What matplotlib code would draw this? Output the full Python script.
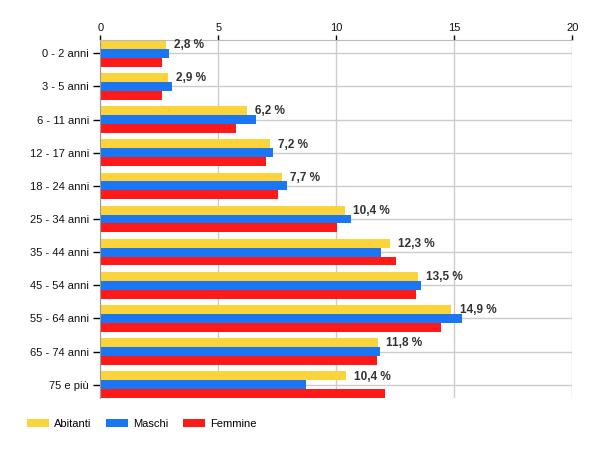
import matplotlib
matplotlib.use("Agg")
import matplotlib.pyplot as plt
import numpy as np

categories = ["0 - 2 anni", "3 - 5 anni", "6 - 11 anni", "12 - 17 anni", "18 - 24 anni",
              "25 - 34 anni", "35 - 44 anni", "45 - 54 anni", "55 - 64 anni",
              "65 - 74 anni", "75 e più"]
abitanti = [2.8, 2.85, 6.2, 7.17, 7.7, 10.37, 12.27, 13.48, 14.88, 11.78, 10.4]
maschi = [2.93, 3.05, 6.61, 7.33, 7.92, 10.63, 11.91, 13.57, 15.33, 11.86, 8.73]
femmine = [2.62, 2.62, 5.77, 7.0, 7.55, 10.05, 12.54, 13.39, 14.44, 11.73, 12.07]
value_labels = ["2,8 %", "2,9 %", "6,2 %", "7,2 %", "7,7 %", "10,4 %", "12,3 %",
                "13,5 %", "14,9 %", "11,8 %", "10,4 %"]
series_names = ["Abitanti", "Maschi", "Femmine"]
x_ticks = [0, 5, 10, 15, 20]

colors = ["#FAD43A", "#1A76F2", "#FF1A1A"]

plt.rcParams['font.family'] = ['Liberation Sans', 'DejaVu Sans']

fig = plt.figure(figsize=(6, 4.5), dpi=100)
ax = fig.add_axes([100.3/600, 1-398/450, (572.3-100.3)/600, (398-40)/450])

y = np.arange(len(categories))
h = 0.8/3
series = [abitanti, maschi, femmine]
bars = []
for i, (vals, c, name) in enumerate(zip(series, colors, series_names)):
    b = ax.barh(y + (i-1)*h, vals, height=h, color=c, label=name, zorder=2, linewidth=0)
    bars.append(b)

for yi, v, lab in zip(y, abitanti, value_labels):
    ax.annotate(lab, xy=(v, yi - h/2), xytext=(5.8, 0.5), textcoords='offset points',
                va='baseline', ha='left', fontsize=8.5, fontweight='bold', color='#333333',
                zorder=5)

ax.set_xlim(0, 20)
ax.set_ylim(len(categories) - 0.6, -0.4)
ax.set_yticks(y)
ax.set_yticklabels(categories)
ax.set_xticks(x_ticks)
ax.xaxis.tick_top()
ax.tick_params(axis='x', length=3.5, width=1, color='black', labelsize=8, pad=1.2, labelcolor='#111111')
ax.tick_params(axis='y', length=5, width=1, color='black', labelsize=8, pad=3, labelcolor='#111111')
ax.grid(True, color='#cccccc', linewidth=1, zorder=0)
ax.set_axisbelow(True)
for s in ['bottom', 'right']:
    ax.spines[s].set_visible(False)
ax.spines['top'].set_color('#bbbbbb')
ax.spines['left'].set_color('#999999')

fig.legend(handles=bars, labels=series_names, loc='lower left',
           bbox_to_anchor=(27/600, 1-429/450), ncol=3, frameon=False,
           fontsize=8, handlelength=2.0, handleheight=0.8, handletextpad=0.45,
           columnspacing=1.3, borderaxespad=0, borderpad=0)

fig.savefig("out.png", dpi=100)
